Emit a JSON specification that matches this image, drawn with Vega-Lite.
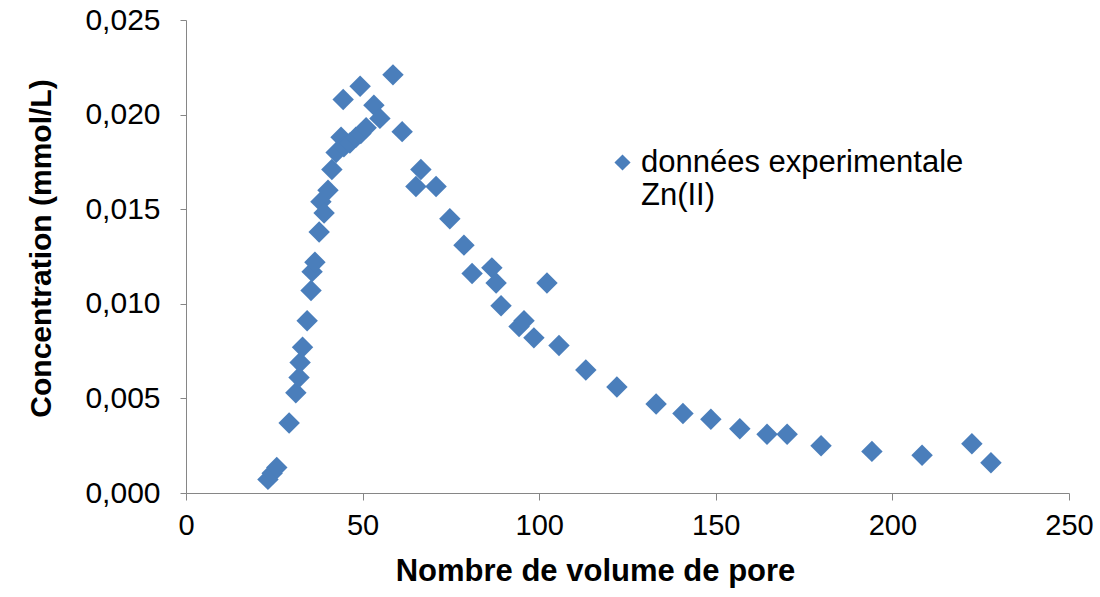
{
  "$schema": "https://vega.github.io/schema/vega-lite/v6.json",
  "width": 883,
  "height": 473,
  "autosize": {"type": "none"},
  "padding": {"left": 186, "top": 20, "right": 31, "bottom": 104},
  "background": "white",
  "config": {
    "view": {"stroke": null},
    "font": "Liberation Sans"
  },
  "data": {
    "values": [
      {"v": 23.2, "c": 0.00072, "s": "données experimentale"},
      {"v": 24.4, "c": 0.00105, "s": "données experimentale"},
      {"v": 25.7, "c": 0.00135, "s": "données experimentale"},
      {"v": 29.2, "c": 0.0037, "s": "données experimentale"},
      {"v": 31.1, "c": 0.0053, "s": "données experimentale"},
      {"v": 32.0, "c": 0.0061, "s": "données experimentale"},
      {"v": 32.3, "c": 0.0069, "s": "données experimentale"},
      {"v": 33.0, "c": 0.0077, "s": "données experimentale"},
      {"v": 34.3, "c": 0.0091, "s": "données experimentale"},
      {"v": 35.4, "c": 0.0107, "s": "données experimentale"},
      {"v": 35.7, "c": 0.0117, "s": "données experimentale"},
      {"v": 36.5, "c": 0.0122, "s": "données experimentale"},
      {"v": 37.7, "c": 0.0138, "s": "données experimentale"},
      {"v": 38.2, "c": 0.0154, "s": "données experimentale"},
      {"v": 39.1, "c": 0.0148, "s": "données experimentale"},
      {"v": 40.2, "c": 0.0160, "s": "données experimentale"},
      {"v": 41.3, "c": 0.0171, "s": "données experimentale"},
      {"v": 42.5, "c": 0.0180, "s": "données experimentale"},
      {"v": 43.9, "c": 0.0188, "s": "données experimentale"},
      {"v": 44.5, "c": 0.0208, "s": "données experimentale"},
      {"v": 44.7, "c": 0.0183, "s": "données experimentale"},
      {"v": 46.4, "c": 0.0185, "s": "données experimentale"},
      {"v": 48.1, "c": 0.0188, "s": "données experimentale"},
      {"v": 49.5, "c": 0.0190, "s": "données experimentale"},
      {"v": 51.0, "c": 0.0193, "s": "données experimentale"},
      {"v": 49.3, "c": 0.0215, "s": "données experimentale"},
      {"v": 53.2, "c": 0.0205, "s": "données experimentale"},
      {"v": 54.9, "c": 0.0198, "s": "données experimentale"},
      {"v": 58.6, "c": 0.0221, "s": "données experimentale"},
      {"v": 61.2, "c": 0.0191, "s": "données experimentale"},
      {"v": 66.5, "c": 0.0171, "s": "données experimentale"},
      {"v": 65.1, "c": 0.0162, "s": "données experimentale"},
      {"v": 70.8, "c": 0.0162, "s": "données experimentale"},
      {"v": 74.7, "c": 0.0145, "s": "données experimentale"},
      {"v": 78.7, "c": 0.0131, "s": "données experimentale"},
      {"v": 81.0, "c": 0.0116, "s": "données experimentale"},
      {"v": 86.6, "c": 0.0119, "s": "données experimentale"},
      {"v": 87.8, "c": 0.0111, "s": "données experimentale"},
      {"v": 102.2, "c": 0.0111, "s": "données experimentale"},
      {"v": 89.2, "c": 0.0099, "s": "données experimentale"},
      {"v": 94.3, "c": 0.0088, "s": "données experimentale"},
      {"v": 95.7, "c": 0.0091, "s": "données experimentale"},
      {"v": 98.5, "c": 0.0082, "s": "données experimentale"},
      {"v": 105.6, "c": 0.0078, "s": "données experimentale"},
      {"v": 113.2, "c": 0.0065, "s": "données experimentale"},
      {"v": 122.0, "c": 0.0056, "s": "données experimentale"},
      {"v": 133.1, "c": 0.0047, "s": "données experimentale"},
      {"v": 140.7, "c": 0.0042, "s": "données experimentale"},
      {"v": 148.6, "c": 0.0039, "s": "données experimentale"},
      {"v": 156.8, "c": 0.0034, "s": "données experimentale"},
      {"v": 164.5, "c": 0.0031, "s": "données experimentale"},
      {"v": 170.2, "c": 0.0031, "s": "données experimentale"},
      {"v": 179.8, "c": 0.0025, "s": "données experimentale"},
      {"v": 194.2, "c": 0.0022, "s": "données experimentale"},
      {"v": 208.4, "c": 0.0020, "s": "données experimentale"},
      {"v": 222.5, "c": 0.0026, "s": "données experimentale"},
      {"v": 227.9, "c": 0.0016, "s": "données experimentale"}
    ]
  },
  "mark": {"type": "point", "shape": "diamond", "filled": true, "size": 460, "opacity": 1},
  "encoding": {
    "x": {
      "field": "v", "type": "quantitative",
      "scale": {"domain": [0, 250], "nice": false, "zero": false},
      "axis": {
        "values": [0, 50, 100, 150, 200, 250],
        "title": "Nombre de volume de pore",
        "grid": false, "labelFlush": false,
        "domainColor": "#868686", "tickColor": "#868686", "tickSize": 7,
        "labelFontSize": 29, "labelColor": "#000000", "labelPadding": 11,
        "titleFontSize": 31, "titleFontWeight": "bold", "titleColor": "#000000", "titlePadding": 16,
        "titleX": 409
      }
    },
    "y": {
      "field": "c", "type": "quantitative",
      "scale": {"domain": [0, 0.025], "nice": false},
      "axis": {
        "values": [0, 0.005, 0.01, 0.015, 0.02, 0.025],
        "labelExpr": "replace(format(datum.value, '.3f'), '.', ',')",
        "title": "Concentration (mmol/L)",
        "grid": false, "labelFlush": false,
        "domainColor": "#868686", "tickColor": "#868686", "tickSize": 6,
        "labelFontSize": 30, "labelColor": "#000000", "labelPadding": 20,
        "titleFontSize": 30, "titleFontWeight": "bold", "titleColor": "#000000", "titlePadding": 28,
        "titleY": 228
      }
    },
    "color": {
      "field": "s", "type": "nominal",
      "scale": {"range": ["#4A7EBB"]},
      "legend": {
        "orient": "none", "legendX": 421, "legendY": 127,
        "title": null,
        "symbolType": "diamond", "symbolSize": 260, "symbolOpacity": 1,
        "labelFontSize": 31, "labelColor": "#000000", "labelLimit": 600,
        "labelOffset": 3,
        "labelExpr": "['données experimentale', 'Zn(II)']"
      }
    }
  }
}
